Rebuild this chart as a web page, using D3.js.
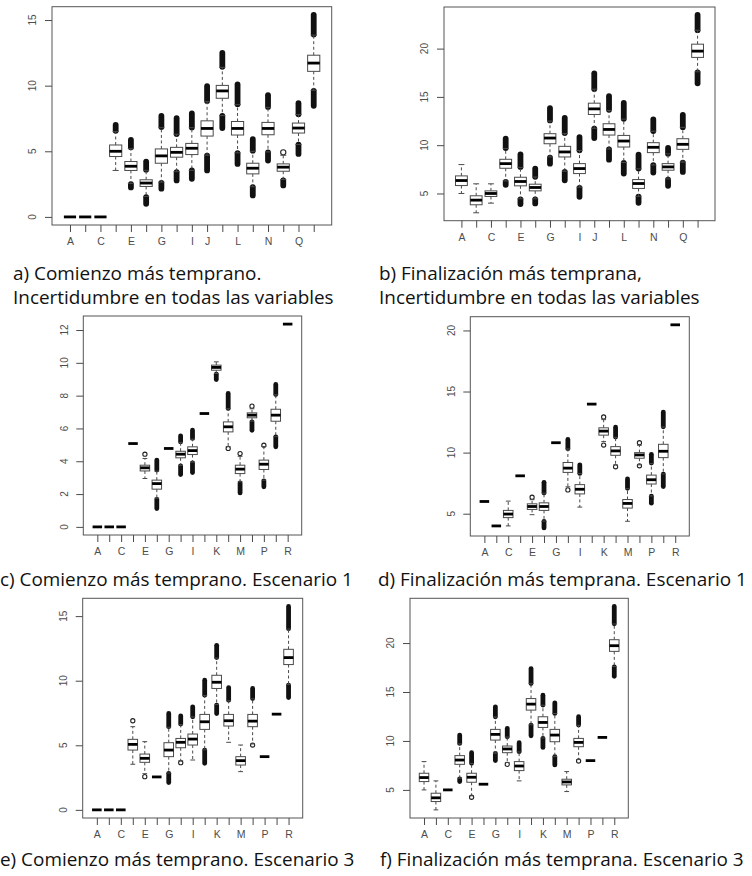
<!DOCTYPE html>
<html>
<head>
<meta charset="utf-8">
<script src="https://cdn.jsdelivr.net/npm/d3@7/dist/d3.min.js"></script>
<style>
  body { margin: 0; background: #fff; }
  svg { display: block; }
</style>
</head>
<body>
<svg id="chart" width="752" height="876"></svg>
<script>
// Activities on the x axis (no "O")
const categories = ["A","B","C","D","E","F","G","H","I","J","K","L","M","N","P","Q","R"];

// Letters printed under the ticks in each panel
const labelsTop = ["A","C","E","G","I","J","L","N","Q"];
const labelsBottom = ["A","C","E","G","I","K","M","P","R"];

// y tick values
const ticksA = [0, 5, 10, 15];
const ticksB = [5, 10, 15, 20];
const ticksC = [0, 2, 4, 6, 8, 10, 12];
const ticksD = [5, 10, 15, 20];
const ticksE = [0, 5, 10, 15];
const ticksF = [5, 10, 15, 20];

// Box statistics per activity:
// [lowOutlierMin, lowOutlierMax, whiskerLow, q1, median, q3, whiskerHigh, highOutlierMin, highOutlierMax]
const statsA = [
  [null,null,0,0,0,0,0,null,null],
  [null,null,0,0,0,0,0,null,null],
  [null,null,0,0,0,0,0,null,null],
  [null,null,3.54,4.6,5.0,5.48,6.5,6.57,7.02],
  [2.25,2.5,2.55,3.54,3.86,4.22,5.2,5.3,5.86],
  [1.0,1.5,1.56,2.32,2.58,2.83,3.55,3.6,4.22],
  [2.15,2.6,2.65,4.09,4.65,5.18,6.8,6.85,7.7],
  [2.78,3.41,3.45,4.55,4.92,5.3,6.3,6.31,7.52],
  [2.9,3.54,3.55,4.75,5.23,5.6,6.8,6.82,7.88],
  [3.54,4.67,4.7,6.16,6.74,7.32,8.8,8.84,9.97],
  [6.77,7.7,7.72,9.04,9.6,10.02,11.4,11.44,12.5],
  [4.04,4.85,4.88,6.24,6.74,7.27,8.55,8.59,10.1],
  [1.64,2.27,2.3,3.28,3.71,4.09,5.0,5.05,5.93],
  [4.29,4.92,4.95,6.26,6.74,7.2,8.35,8.38,9.27],
  [2.4,2.78,2.85,3.48,3.79,4.04,4.7,4.92,4.92],
  [4.8,5.5,5.52,6.39,6.77,7.15,7.8,7.83,8.66],
  [8.46,9.6,9.65,11.09,11.72,12.32,13.85,13.9,15.4]
];
const statsB = [
  [null,null,5.0,5.82,6.34,6.82,7.99,null,null],
  [null,null,3.0,3.83,4.31,4.76,6.0,null,null],
  [null,null,4.0,4.69,5.0,5.27,6.0,null,null],
  [5.9,6.2,6.3,7.61,8.09,8.54,9.65,9.71,10.67],
  [3.9,4.38,4.45,5.79,6.24,6.68,7.7,7.75,9.05],
  [3.97,4.38,4.45,5.27,5.62,5.96,6.7,6.72,7.58],
  [8.09,8.71,8.78,10.15,10.74,11.19,12.5,12.56,13.83],
  [6.37,7.23,7.3,8.78,9.3,9.88,11.2,11.25,12.83],
  [4.66,5.58,5.65,7.06,7.58,8.09,9.45,9.47,10.84],
  [10.74,11.7,11.75,13.18,13.76,14.35,15.8,15.82,17.44],
  [8.5,9.57,9.6,11.05,11.63,12.22,13.6,13.66,15.07],
  [7.06,8.16,8.2,9.81,10.43,11.01,12.7,12.73,14.38],
  [4.04,4.66,4.7,5.52,6.03,6.44,7.55,7.58,9.02],
  [7.16,7.92,7.95,9.23,9.78,10.26,11.45,11.46,12.66],
  [5.79,6.44,6.5,7.41,7.75,8.09,9.1,9.12,9.71],
  [7.23,8.2,8.25,9.57,10.09,10.67,11.85,11.87,13.14],
  [16.41,17.54,17.6,19.09,19.74,20.46,21.9,21.91,23.49]
];
const statsC = [
  [null,null,0,0,0,0,0,null,null],
  [null,null,0,0,0,0,0,null,null],
  [null,null,0,0,0,0,0,null,null],
  [null,null,5.08,5.08,5.08,5.08,5.08,null,null],
  [null,null,2.95,3.41,3.6,3.76,4.17,4.43,4.43],
  [1.12,1.67,1.75,2.3,2.64,2.85,3.4,3.46,4.07],
  [null,null,4.78,4.78,4.78,4.78,4.78,null,null],
  [3.19,3.72,3.75,4.21,4.43,4.61,5.15,5.18,5.55],
  [3.31,3.9,3.95,4.41,4.65,4.88,5.35,5.39,5.89],
  [null,null,6.91,6.91,6.91,6.91,6.91,null,null],
  [8.98,9.31,9.35,9.55,9.72,9.86,10.06,null,null],
  [4.78,4.78,4.9,5.79,6.1,6.4,7.2,7.22,8.13],
  [2.07,2.68,2.75,3.25,3.52,3.76,4.3,4.47,4.47],
  [5.89,6.4,6.45,6.65,6.81,6.95,7.2,7.36,7.36],
  [2.44,2.8,2.85,3.5,3.82,4.07,4.9,4.98,4.98],
  [4.88,5.49,5.5,6.44,6.81,7.17,8.05,8.07,8.68],
  [null,null,12.36,12.36,12.36,12.36,12.36,null,null]
];
const statsD = [
  [null,null,6.0,6.0,6.0,6.0,6.0,null,null],
  [null,null,4.0,4.0,4.0,4.0,4.0,null,null],
  [null,null,4.0,4.68,4.97,5.27,6.03,null,null],
  [null,null,8.1,8.1,8.1,8.1,8.1,null,null],
  [null,null,4.92,5.35,5.59,5.81,6.15,6.35,6.35],
  [3.84,4.38,4.4,5.27,5.59,5.89,6.68,6.7,7.57],
  [null,null,10.81,10.81,10.81,10.81,10.81,null,null],
  [6.95,6.95,7.2,8.38,8.73,9.19,10.3,10.32,11.08],
  [null,null,5.54,6.62,7.0,7.38,8.28,8.3,9.0],
  [null,null,13.97,13.97,13.97,13.97,13.97,null,null],
  [10.62,10.62,10.9,11.43,11.76,12.03,12.7,12.92,12.92],
  [8.84,8.84,9.0,9.78,10.14,10.49,11.25,11.27,12.08],
  [null,null,4.38,5.46,5.84,6.16,7.05,7.08,7.84],
  [8.92,8.92,9.0,9.54,9.81,10.0,10.6,10.81,10.81],
  [5.86,6.43,6.45,7.43,7.78,8.16,9.1,9.14,9.86],
  [7.22,8.24,8.25,9.59,10.11,10.68,12.1,12.11,13.32],
  [null,null,20.46,20.46,20.46,20.46,20.46,null,null]
];
const statsE = [
  [null,null,0,0,0,0,0,null,null],
  [null,null,0,0,0,0,0,null,null],
  [null,null,0,0,0,0,0,null,null],
  [null,null,3.53,4.63,5.07,5.46,6.44,6.9,6.9],
  [2.57,2.57,2.8,3.68,3.99,4.32,5.28,null,null],
  [null,null,2.55,2.55,2.55,2.55,2.55,null,null],
  [2.11,2.83,2.85,4.12,4.63,5.2,6.4,6.44,7.46],
  [3.65,3.65,3.8,4.81,5.23,5.53,6.6,6.64,7.28],
  [null,null,3.86,5.02,5.48,5.87,7.2,7.21,7.98],
  [3.6,4.63,4.65,6.23,6.82,7.39,8.85,8.88,10.04],
  [7.46,8.11,8.15,9.4,9.88,10.42,11.75,11.79,12.74],
  [null,null,5.23,6.49,6.9,7.39,8.45,8.49,9.47],
  [null,null,2.96,3.47,3.81,4.12,5.02,null,null],
  [5.02,5.02,5.1,6.44,6.87,7.39,8.6,8.62,9.4],
  [null,null,4.12,4.12,4.12,4.12,4.12,null,null],
  [null,null,7.41,7.41,7.41,7.41,7.41,null,null],
  [8.7,9.65,9.7,11.25,11.79,12.43,14.0,14.03,15.75]
];
const statsF = [
  [null,null,5.0,5.85,6.26,6.7,7.89,null,null],
  [null,null,2.96,3.81,4.19,4.66,5.92,null,null],
  [null,null,5.0,5.0,5.0,5.0,5.0,null,null],
  [5.85,6.12,6.2,7.61,8.05,8.5,9.7,9.75,10.6],
  [4.25,4.25,4.4,5.78,6.29,6.7,7.7,7.72,8.8],
  [null,null,5.58,5.58,5.58,5.58,5.58,null,null],
  [7.99,8.73,8.75,10.09,10.67,11.18,12.45,12.47,13.49],
  [7.61,7.61,7.8,8.8,9.18,9.48,10.4,10.43,11.28],
  [null,null,5.92,6.97,7.44,7.89,8.88,8.9,9.82],
  [10.53,11.62,11.65,13.15,13.76,14.33,15.85,15.86,17.39],
  [9.34,10.26,10.3,11.38,11.89,12.47,13.65,13.66,14.67],
  [7.55,8.39,8.4,9.92,10.6,11.18,12.8,12.81,13.89],
  [null,null,4.83,5.51,5.81,6.09,6.87,null,null],
  [7.95,7.95,8.1,9.41,9.85,10.26,11.6,11.62,12.47],
  [null,null,7.99,7.99,7.99,7.99,7.99,null,null],
  [null,null,10.36,10.36,10.36,10.36,10.36,null,null],
  [16.61,17.56,17.6,19.15,19.73,20.34,21.95,21.97,23.74]
];

// Panel captions
const captionA = ["a) Comienzo más temprano.", "Incertidumbre en todas las variables"];
const captionB = ["b) Finalización más temprana,", "Incertidumbre en todas las variables"];
const captionC = ["c) Comienzo más temprano. Escenario 1"];
const captionD = ["d) Finalización más temprana. Escenario 1"];
const captionE = ["e) Comienzo más temprano. Escenario 3"];
const captionF = ["f) Finalización más temprana. Escenario 3"];

const svg = d3.select("#chart");

// Plot frames (left, right, top, bottom) and marker sizes for each panel
const panels = [
  { stats: statsA, ticks: ticksA, labels: labelsTop,    frame: [52, 331.7, 6.7, 225],   r: 2.6 },
  { stats: statsB, ticks: ticksB, labels: labelsTop,    frame: [444, 715, 7, 220.7],    r: 2.6 },
  { stats: statsC, ticks: ticksC, labels: labelsBottom, frame: [83.3, 301.7, 316, 535], r: 2.1 },
  { stats: statsD, ticks: ticksD, labels: labelsBottom, frame: [470.3, 689.3, 316.7, 536], r: 2.1 },
  { stats: statsE, ticks: ticksE, labels: labelsBottom, frame: [82.7, 302.7, 598.3, 818], r: 2.1 },
  { stats: statsF, ticks: ticksF, labels: labelsBottom, frame: [410, 628.3, 598.3, 818], r: 2.1 }
];

const lineCol = "#4a4a4a";
const textCol = "#4d4d4d";
const tickFont = "'Liberation Sans', Arial, sans-serif";

panels.forEach(p => {
  const [x0, x1, y0, y1] = p.frame;
  const n = categories.length;
  const xs = d3.scaleLinear()
    .domain([0.5 - 0.04 * n, n + 0.5 + 0.04 * n])
    .range([x0, x1]);
  const vals = p.stats.flat().filter(v => v !== null);
  const lo = d3.min(vals), hi = d3.max(vals);
  const pad = (hi - lo) * 0.04;
  const ys = d3.scaleLinear().domain([lo - pad, hi + pad]).range([y1, y0]);

  const g = svg.append("g");

  // frame
  g.append("rect")
    .attr("x", x0).attr("y", y0)
    .attr("width", x1 - x0).attr("height", y1 - y0)
    .attr("fill", "none").attr("stroke", "#555").attr("stroke-width", 1);

  // y axis: outward ticks, labels turned to read upward
  const yAxis = d3.axisLeft(ys).tickValues(p.ticks).tickSize(7).tickFormat("");
  const ya = g.append("g").attr("transform", `translate(${x0},0)`).call(yAxis);
  ya.select(".domain").remove();
  ya.selectAll(".tick line").attr("stroke", lineCol);
  ya.selectAll(".tick text").remove();
  g.selectAll(null).data(p.ticks).enter().append("text")
    .attr("x", x0 - 15.5)
    .attr("y", d => ys(d))
    .attr("transform", d => `rotate(-90, ${x0 - 15.5}, ${ys(d)})`)
    .attr("text-anchor", "middle")
    .attr("fill", textCol)
    .attr("font-family", tickFont)
    .attr("font-size", 10)
    .text(d => d);

  // x axis: a tick per activity, letters where they fit
  const xAxis = d3.axisBottom(xs).tickValues(d3.range(1, n + 1)).tickSize(7).tickPadding(6)
    .tickFormat(i => p.labels.includes(categories[i - 1]) ? categories[i - 1] : "");
  const xa = g.append("g").attr("transform", `translate(0,${y1})`).call(xAxis);
  xa.select(".domain").remove();
  xa.selectAll(".tick line").attr("stroke", lineCol);
  xa.selectAll(".tick text")
    .attr("fill", textCol)
    .attr("font-family", tickFont)
    .attr("font-size", 10.5);

  // boxes
  const half = 0.4, staple = 0.2;
  p.stats.forEach((s, i) => {
    const [oLo0, oLo1, wLo, q1, med, q3, wHi, oHi0, oHi1] = s;
    const cx = xs(i + 1);
    const bx0 = xs(i + 1 - half), bx1 = xs(i + 1 + half);
    const sx0 = xs(i + 1 - staple), sx1 = xs(i + 1 + staple);
    const bg = g.append("g");

    // outliers: dense runs appear as solid capsules, single ones as rings
    [[oLo0, oLo1], [oHi0, oHi1]].forEach(([a, b]) => {
      if (a === null) return;
      if (Math.abs(ys(a) - ys(b)) < 1) {
        bg.append("circle").attr("cx", cx).attr("cy", ys(a)).attr("r", p.r)
          .attr("fill", "#fff").attr("stroke", "#222").attr("stroke-width", 1.1);
      } else {
        bg.append("line").attr("x1", cx).attr("x2", cx)
          .attr("y1", ys(a)).attr("y2", ys(b))
          .attr("stroke", "#111").attr("stroke-width", p.r * 2 + 0.6)
          .attr("stroke-linecap", "round");
      }
    });

    const flat = q1 === q3;
    if (!flat) {
      // dashed whiskers
      bg.append("line").attr("x1", cx).attr("x2", cx).attr("y1", ys(q3)).attr("y2", ys(wHi))
        .attr("stroke", lineCol).attr("stroke-dasharray", "3,2.5");
      bg.append("line").attr("x1", cx).attr("x2", cx).attr("y1", ys(q1)).attr("y2", ys(wLo))
        .attr("stroke", lineCol).attr("stroke-dasharray", "3,2.5");
      // staples
      [wLo, wHi].forEach(v => {
        bg.append("line").attr("x1", sx0).attr("x2", sx1).attr("y1", ys(v)).attr("y2", ys(v))
          .attr("stroke", lineCol);
      });
      // box
      bg.append("rect").attr("x", bx0).attr("y", ys(q3))
        .attr("width", bx1 - bx0).attr("height", ys(q1) - ys(q3))
        .attr("fill", "#fff").attr("stroke", lineCol).attr("stroke-width", 1);
    }
    // median
    bg.append("line").attr("x1", bx0).attr("x2", bx1).attr("y1", ys(med)).attr("y2", ys(med))
      .attr("stroke", "#000").attr("stroke-width", 2.8);
  });
});

// captions
const captions = [
  { lines: captionA, x: 13,  y: 280 },
  { lines: captionB, x: 379, y: 280 },
  { lines: captionC, x: 0,   y: 586 },
  { lines: captionD, x: 378, y: 586 },
  { lines: captionE, x: 0,   y: 866 },
  { lines: captionF, x: 380, y: 866 }
];
const capFont = "'Open Sans', 'Noto Sans', sans-serif";
// size the caption font so the long line spans 321px
const probe = svg.append("text").attr("font-family", capFont).attr("font-size", 16)
  .text("Incertidumbre en todas las variables");
const k = 321 / probe.node().getComputedTextLength();
probe.remove();
const capSize = 16 * k;

captions.forEach(c => {
  const n = c.lines.length;
  c.lines.forEach((t, j) => {
    svg.append("text")
      .attr("x", c.x)
      .attr("y", c.y + (n === 2 && j === 1 ? 24 : 0))
      .attr("font-family", capFont)
      .attr("font-size", capSize)
      .attr("fill", "#111")
      .text(t);
  });
});
</script>
</body>
</html>
